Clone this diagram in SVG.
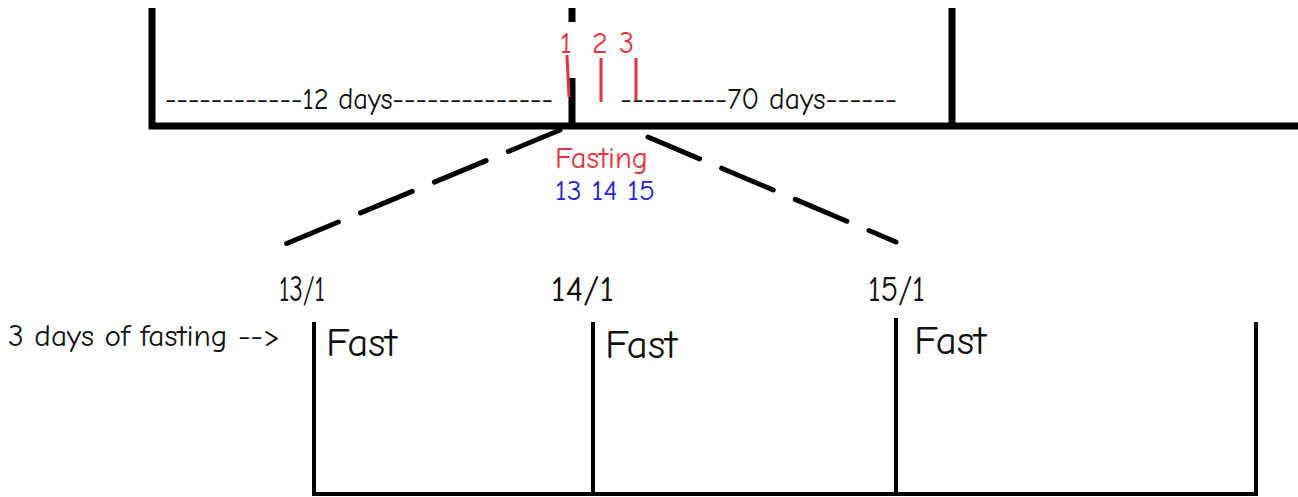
<svg xmlns="http://www.w3.org/2000/svg" width="1298" height="497" viewBox="0 0 1298 497">
<style>
.t{font-family:"Comic Neue","Liberation Sans","DejaVu Sans",sans-serif;fill:#111}
.r{fill:#e5323c}
.b{fill:#2222dd}
.thick{stroke:#000;stroke-width:7;fill:none}
.thin{stroke:#000;stroke-width:4;fill:none}
.red{stroke:#e5323c;stroke-width:3;fill:none}
.dash{stroke:#000;stroke-width:5;fill:none;stroke-dasharray:56 24;stroke-linecap:round}
</style>
<rect width="1298" height="497" fill="#fff"/>
<g id="timeline-top">
<path class="thick" d="M152 8 V126 H1298 M952 8 V126"/>
<path class="thick" d="M572 8 V22 M572 78 V128"/>
<text class="t" x="165" y="109" font-size="30" textLength="388" lengthAdjust="spacingAndGlyphs">------------12 days--------------</text>
<text class="t" x="620" y="109" font-size="30" textLength="277" lengthAdjust="spacingAndGlyphs">---------70 days------</text>
</g>
<g id="fasting-marks">
<path class="red" d="M567 55 L569 97 M601 58 V102 M636 58 V100"/>
<text class="t r" x="560" y="53" font-size="30">1</text>
<text class="t r" x="592" y="53" font-size="30">2</text>
<text class="t r" x="619" y="53" font-size="30">3</text>
<text class="t r" x="555" y="168" font-size="30" textLength="93" lengthAdjust="spacingAndGlyphs">Fasting</text>
<text class="t b" x="555" y="200" font-size="29" textLength="100" lengthAdjust="spacingAndGlyphs">13 14 15</text>
</g>
<g id="connectors">
<path class="dash" d="M560 130 L283 245"/>
<path class="dash" d="M648 137 L896 242"/>
</g>
<g id="timeline-bottom">
<path class="thin" d="M314 322 V494 H1256 V322 M593 322 V494 M896 318 V494"/>
<text class="t" x="279" y="301" font-size="36" textLength="46" lengthAdjust="spacingAndGlyphs">13/1</text>
<text class="t" x="551" y="301" font-size="36" textLength="63" lengthAdjust="spacingAndGlyphs">14/1</text>
<text class="t" x="868" y="301" font-size="36" textLength="57" lengthAdjust="spacingAndGlyphs">15/1</text>
<text class="t" x="326" y="356" font-size="40" textLength="71" lengthAdjust="spacingAndGlyphs">Fast</text>
<text class="t" x="605" y="358" font-size="40" textLength="72" lengthAdjust="spacingAndGlyphs">Fast</text>
<text class="t" x="914" y="354" font-size="40" textLength="72" lengthAdjust="spacingAndGlyphs">Fast</text>
<text class="t" x="8" y="346" font-size="31" textLength="272" lengthAdjust="spacingAndGlyphs">3 days of fasting --&gt;</text>
</g>
</svg>
